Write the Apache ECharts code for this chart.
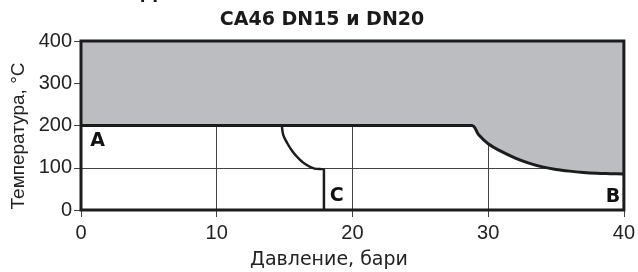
<!DOCTYPE html>
<html>
<head>
    <meta charset="utf-8">
    <title>CA46 DN15 и DN20</title>
    <script src="https://cdn.jsdelivr.net/npm/echarts@6/dist/echarts.min.js"></script>
    <style>
        html, body { margin: 0; padding: 0; background: #fff; }
    </style>
</head>
<body>
    <div id="main" style="width: 638px;height:272px;"></div>
    <script type="text/javascript">
        // оси
        var xTicks = [0, 10, 20, 30, 40];
        var yTicks = [0, 100, 200, 300, 400];

        // граница серой зоны (линия A-B), давление / температура
        var limitP = [0, 28.8, 29.3, 30, 31, 32, 33, 34, 35, 36, 37, 38, 39, 40];
        var limitT = [200, 200, 178, 157, 138, 123, 111, 102, 96, 92, 89, 87, 86, 85];

        // кривая C
        var curveCP = [14.8, 14.9, 15.2, 15.6, 16.1, 16.6, 17.2, 17.9, 17.9];
        var curveCT = [200, 178, 158, 138, 120, 107, 98, 96, 0];

        // подписи зон
        var zoneNames = ['A', 'C', 'B'];
        var zoneP = [1.23, 18.84, 39.2];
        var zoneT = [163, 33, 30];

        var lineColor = '#1c1c1c';
        var fillColor = '#bcbdc0';

        function pairs(xs, ys) {
            return xs.map(function (v, i) { return [v, ys[i]]; });
        }

        var myChart = echarts.init(document.getElementById('main'));

        myChart.setOption({
            animation: false,
            textStyle: { fontFamily: 'Liberation Sans' },
            // рамка поверх заливки
            grid: {
                left: 81, right: 4, top: 41, bottom: 62,
                show: true, z: 10, borderWidth: 3, borderColor: lineColor,
                backgroundColor: 'transparent'
            },
            graphic: [
                {
                    type: 'text', left: 140, top: -16,
                    style: { text: 'Д', fontSize: 20, fontWeight: 'bold', fontFamily: 'DejaVu Sans', fill: '#1a1a1a' }
                },
                {
                    type: 'text', x: 322, y: 20,
                    style: {
                        text: 'CA46 DN15 и DN20', fontSize: 19, fontWeight: 'bold',
                        fontFamily: 'DejaVu Sans', fill: '#1a1a1a', align: 'center', verticalAlign: 'middle'
                    }
                },
                {
                    type: 'text', x: 329, y: 260,
                    style: {
                        text: 'Давление, бари', fontSize: 19, fontFamily: 'DejaVu Sans',
                        fill: '#222', align: 'center', verticalAlign: 'middle'
                    }
                },
                {
                    type: 'text', x: 19, y: 136, rotation: Math.PI / 2,
                    style: {
                        text: 'Температура, °C', fontSize: 19, fontFamily: 'Liberation Sans',
                        fill: '#222', align: 'center', verticalAlign: 'middle'
                    }
                }
            ],
            xAxis: {
                type: 'value', min: xTicks[0], max: xTicks[xTicks.length - 1], interval: 10,
                axisLine: { show: false },
                axisTick: { show: true, length: 7, lineStyle: { color: '#444', width: 1 } },
                axisLabel: { fontSize: 20, color: '#222', margin: 13 },
                splitLine: { lineStyle: { color: '#444', width: 1 } }
            },
            yAxis: {
                type: 'value', min: yTicks[0], max: yTicks[yTicks.length - 1], interval: 100,
                axisLine: { show: false },
                axisTick: { show: true, length: 7, lineStyle: { color: '#444', width: 1 } },
                axisLabel: { fontSize: 20, color: '#222', margin: 9 },
                splitLine: { lineStyle: { color: '#444', width: 1 } }
            },
            series: [
                {
                    type: 'line',
                    data: pairs(limitP, limitT),
                    smooth: 0.3,
                    showSymbol: false,
                    lineStyle: { color: lineColor, width: 3 },
                    areaStyle: { color: fillColor, opacity: 1, origin: 'end' },
                    z: 3
                },
                {
                    type: 'line',
                    data: pairs(curveCP, curveCT),
                    smooth: 0.3,
                    showSymbol: false,
                    lineStyle: { color: lineColor, width: 2.5 },
                    z: 3
                },
                {
                    type: 'scatter',
                    symbolSize: 0,
                    itemStyle: { opacity: 1 },
                    data: zoneNames.map(function (n, i) { return { name: n, value: [zoneP[i], zoneT[i]] }; }),
                    label: {
                        show: true, position: 'inside', formatter: '{b}', opacity: 1,
                        fontSize: 19, fontWeight: 'bold', fontFamily: 'DejaVu Sans', color: '#111'
                    },
                    z: 12
                }
            ]
        });
    </script>
</body>
</html>
